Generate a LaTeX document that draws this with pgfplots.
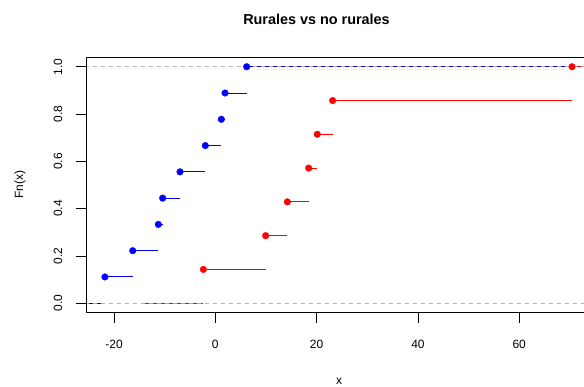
\documentclass[border=0pt]{standalone}
\usepackage{pgfplots}
\pgfplotsset{compat=1.18}
\usepackage{fontspec}
\setmainfont{Liberation Sans}
\definecolor{gray70}{HTML}{B3B3B3}
\definecolor{rblue}{RGB}{0,0,255}
\definecolor{rred}{RGB}{255,0,0}
\begin{document}
\begin{tikzpicture}[x=1pt,y=1pt]
\path[use as bounding box] (0,0) rectangle (584,387);
\begin{axis}[
  name=ax,
  at={(86pt,74.3pt)}, anchor=south west,
  scale only axis, width=498pt, height=255.4pt,
  xmin=-25.53, xmax=72.79, ymin=-0.04, ymax=1.04,
  axis line style={draw=none},
  xtick={-20,0,20,40,60},
  ytick={0,0.2,0.4,0.6,0.8,1.0},
  tick pos=left, tick align=outside,
  major tick length=10pt,
  tick style={black, line width=0.6pt},
  /pgf/number format/assume math mode=true,
  ticklabel style={font=\fontsize{12}{14}\selectfont},
  xticklabel style={anchor=center, yshift=-22pt},
  yticklabel style={rotate=90, anchor=center, yshift=18pt,
    /pgf/number format/fixed, /pgf/number format/fixed zerofill, /pgf/number format/precision=1},
  clip=true,
  bseg/.style={draw=rblue, line width=1.0pt, mark=none, forget plot},
  rseg/.style={draw=rred, line width=1.0pt, mark=none, forget plot},
  gline/.style={draw=gray70, line width=0.9pt, dash pattern=on 4pt off 4pt, mark=none, forget plot},
]
% blue segments
\addplot[bseg] coordinates {(-40,0) (-21.8,0)};
\addplot[bseg] coordinates {(-21.8,0.1111) (-16.31,0.1111)};
\addplot[bseg] coordinates {(-16.31,0.2222) (-11.25,0.2222)};
\addplot[bseg] coordinates {(-11.25,0.3333) (-10.39,0.3333)};
\addplot[bseg] coordinates {(-10.39,0.4444) (-6.97,0.4444)};
\addplot[bseg] coordinates {(-6.97,0.5556) (-1.97,0.5556)};
\addplot[bseg] coordinates {(-1.97,0.6667) (1.19,0.6667)};
\addplot[bseg] coordinates {(1.19,0.7778) (1.92,0.7778)};
\addplot[bseg] coordinates {(1.92,0.8889) (6.19,0.8889)};
\addplot[bseg] coordinates {(6.19,1) (120,1)};
\addplot[rblue, only marks, mark=*, mark size=3.3pt] coordinates {
(-21.8,0.1111) (-16.31,0.2222) (-11.25,0.3333) (-10.39,0.4444) (-6.97,0.5556)
(-1.97,0.6667) (1.19,0.7778) (1.92,0.8889) (6.19,1)
};
\addplot[gline] coordinates {(-40,0) (120,0)};
\addplot[gline] coordinates {(-40,1) (120,1)};
% red segments
\addplot[rseg] coordinates {(-14.0,0) (-2.36,0)};
\addplot[rseg] coordinates {(-2.36,0.1429) (9.94,0.1429)};
\addplot[rseg] coordinates {(9.94,0.2857) (14.22,0.2857)};
\addplot[rseg] coordinates {(14.22,0.4286) (18.43,0.4286)};
\addplot[rseg] coordinates {(18.43,0.5714) (20.14,0.5714)};
\addplot[rseg] coordinates {(20.14,0.7143) (23.17,0.7143)};
\addplot[rseg] coordinates {(23.17,0.8571) (70.43,0.8571)};
\addplot[rseg] coordinates {(70.43,1) (82,1)};
\addplot[gline] coordinates {(-40,0) (120,0)};
\addplot[gline] coordinates {(-40,1) (120,1)};
\addplot[rred, only marks, mark=*, mark size=3.3pt] coordinates {
(-2.36,0.1429) (9.94,0.2857) (14.22,0.4286) (18.43,0.5714) (20.14,0.7143)
(23.17,0.8571) (70.43,1)
};
\end{axis}
\draw[black, line width=0.8pt] (ax.north east) -- (ax.north west) -- (ax.south west) -- (ax.south east);
\node[font=\fontsize{14.4}{16}\selectfont\bfseries] at (316.5,368) {Rurales vs no rurales};
\node[font=\fontsize{12}{14}\selectfont] at (339,6) {x};
\node[font=\fontsize{12}{14}\selectfont, rotate=90] at (20,202) {Fn(x)};
\end{tikzpicture}
\end{document}
